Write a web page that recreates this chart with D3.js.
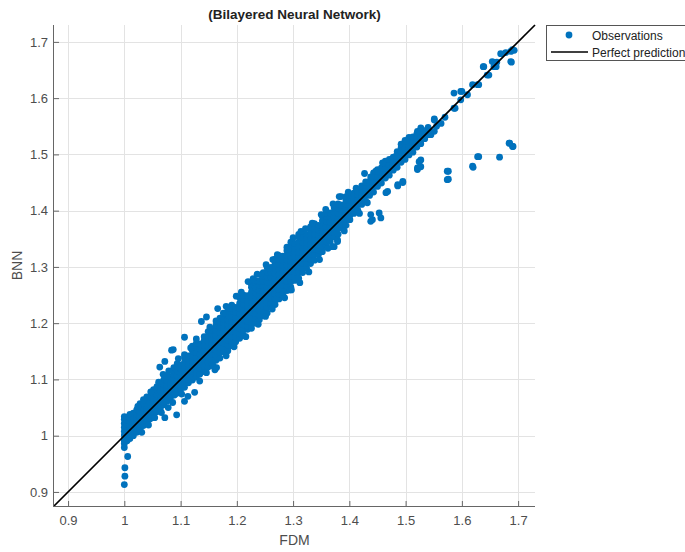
<!DOCTYPE html>
<html>
<head>
<meta charset="utf-8">
<script src="https://cdn.jsdelivr.net/npm/d3@7"></script>
<style>
  html, body { margin: 0; padding: 0; background: #fff; }
  svg { display: block; font-family: "Liberation Sans", Arial, Helvetica, sans-serif; }
</style>
</head>
<body>
<svg id="chart" width="685" height="552"></svg>
<script>
// ---- Data: FDM (x) vs BNN prediction (y) ----
const tickValues = [0.9, 1.0, 1.1, 1.2, 1.3, 1.4, 1.5, 1.6, 1.7];
const tickLabels = ["0.9", "1", "1.1", "1.2", "1.3", "1.4", "1.5", "1.6", "1.7"];
const legendLabels = ["Observations", "Perfect prediction"];

// Dense band, grouped per FDM column: [FDM, [BNN values]]
const bandLow = [
  [1.000, [0.986, 0.994, 1.001, 1.008, 1.015, 1.022, 1.029, 1.034]],
  [1.005, [0.991, 0.999, 1.006, 1.013, 1.020, 1.027, 1.033]],
  [1.010, [0.995, 1.003, 1.011, 1.018, 1.025, 1.032, 1.038]],
  [1.016, [1.000, 1.008, 1.016, 1.023, 1.031, 1.040]],
  [1.022, [1.006, 1.013, 1.021, 1.029, 1.037, 1.046]],
  [1.028, [1.012, 1.020, 1.027, 1.035, 1.043, 1.051, 1.057]],
  [1.034, [1.018, 1.025, 1.033, 1.041, 1.049, 1.056]],
  [1.040, [1.025, 1.031, 1.039, 1.047, 1.055, 1.063, 1.069]],
  [1.046, [1.030, 1.037, 1.045, 1.053, 1.061, 1.068]],
  [1.052, [1.036, 1.043, 1.051, 1.059, 1.067, 1.075, 1.082]],
  [1.058, [1.043, 1.049, 1.057, 1.065, 1.073, 1.081, 1.087]],
  [1.064, [1.048, 1.055, 1.063, 1.071, 1.079, 1.087]],
  [1.070, [1.055, 1.060, 1.068, 1.076, 1.084, 1.092, 1.099]],
  [1.076, [1.061, 1.066, 1.074, 1.082, 1.090, 1.098, 1.106]],
  [1.082, [1.068, 1.071, 1.080, 1.088, 1.096, 1.104]],
  [1.088, [1.072, 1.077, 1.085, 1.093, 1.101, 1.109, 1.117, 1.121]],
  [1.094, [1.076, 1.083, 1.091, 1.099, 1.107, 1.115, 1.123, 1.128]],
  [1.100, [1.082, 1.088, 1.096, 1.104, 1.112, 1.120, 1.126]]
];

const bandMid = [
  [1.107, [1.086, 1.094, 1.103, 1.112, 1.121, 1.130, 1.139, 1.144]],
  [1.114, [1.094, 1.100, 1.109, 1.118, 1.127, 1.136, 1.142]],
  [1.121, [1.099, 1.106, 1.115, 1.124, 1.133, 1.142, 1.151, 1.159]],
  [1.128, [1.104, 1.112, 1.121, 1.130, 1.139, 1.148, 1.157, 1.164]],
  [1.135, [1.112, 1.118, 1.127, 1.136, 1.145, 1.154, 1.163]],
  [1.142, [1.114, 1.124, 1.133, 1.142, 1.151, 1.160, 1.169, 1.176]],
  [1.149, [1.122, 1.130, 1.139, 1.148, 1.157, 1.166, 1.175, 1.185]],
  [1.156, [1.129, 1.136, 1.145, 1.154, 1.163, 1.172, 1.181, 1.188]],
  [1.163, [1.134, 1.142, 1.151, 1.160, 1.169, 1.178, 1.187, 1.196, 1.204]],
  [1.170, [1.138, 1.148, 1.157, 1.166, 1.175, 1.184, 1.193, 1.202, 1.209]],
  [1.177, [1.149, 1.155, 1.164, 1.173, 1.182, 1.191, 1.200, 1.207]],
  [1.184, [1.151, 1.161, 1.170, 1.179, 1.188, 1.197, 1.206, 1.215, 1.222]],
  [1.191, [1.160, 1.168, 1.177, 1.186, 1.195, 1.204, 1.213, 1.222, 1.232]],
  [1.198, [1.167, 1.175, 1.184, 1.193, 1.202, 1.211, 1.220, 1.228]],
  [1.205, [1.173, 1.181, 1.190, 1.199, 1.208, 1.217, 1.226, 1.235, 1.245]],
  [1.212, [1.178, 1.188, 1.197, 1.206, 1.215, 1.224, 1.233, 1.242, 1.250]],
  [1.219, [1.189, 1.195, 1.204, 1.213, 1.222, 1.231, 1.240, 1.249]],
  [1.226, [1.191, 1.201, 1.210, 1.219, 1.228, 1.237, 1.246, 1.255, 1.264, 1.269]],
  [1.233, [1.200, 1.208, 1.217, 1.226, 1.235, 1.244, 1.253, 1.262, 1.271, 1.276]],
  [1.240, [1.206, 1.214, 1.223, 1.232, 1.241, 1.250, 1.259, 1.268, 1.275]],
  [1.247, [1.213, 1.221, 1.230, 1.239, 1.248, 1.257, 1.266, 1.275, 1.284, 1.290]],
  [1.254, [1.218, 1.228, 1.237, 1.246, 1.255, 1.264, 1.273, 1.282, 1.291, 1.299]]
];

const bandUpper = [
  [1.261, [1.230, 1.236, 1.245, 1.254, 1.263, 1.272, 1.281, 1.290, 1.299]],
  [1.268, [1.233, 1.243, 1.252, 1.261, 1.270, 1.279, 1.288, 1.297, 1.306, 1.314]],
  [1.275, [1.243, 1.251, 1.260, 1.269, 1.278, 1.287, 1.296, 1.305, 1.314, 1.320]],
  [1.282, [1.250, 1.258, 1.267, 1.276, 1.285, 1.294, 1.303, 1.312, 1.319]],
  [1.289, [1.258, 1.266, 1.275, 1.284, 1.293, 1.302, 1.311, 1.320, 1.329, 1.335]],
  [1.296, [1.264, 1.274, 1.283, 1.292, 1.301, 1.310, 1.319, 1.328, 1.337, 1.344]],
  [1.303, [1.276, 1.282, 1.291, 1.300, 1.309, 1.318, 1.327, 1.336, 1.342]],
  [1.310, [1.280, 1.290, 1.299, 1.308, 1.317, 1.326, 1.335, 1.344, 1.353, 1.358]],
  [1.317, [1.290, 1.298, 1.307, 1.316, 1.325, 1.334, 1.343, 1.352, 1.360]],
  [1.324, [1.298, 1.306, 1.315, 1.324, 1.333, 1.342, 1.351, 1.358]],
  [1.331, [1.306, 1.314, 1.323, 1.332, 1.341, 1.350, 1.359, 1.368, 1.371]],
  [1.338, [1.312, 1.322, 1.331, 1.340, 1.349, 1.358, 1.367, 1.377]],
  [1.345, [1.322, 1.330, 1.339, 1.348, 1.357, 1.366, 1.374]],
  [1.352, [1.327, 1.337, 1.346, 1.355, 1.364, 1.373, 1.382, 1.390]],
  [1.359, [1.337, 1.345, 1.354, 1.363, 1.372, 1.381, 1.390, 1.395]],
  [1.366, [1.345, 1.353, 1.362, 1.371, 1.380, 1.389, 1.396]],
  [1.373, [1.353, 1.361, 1.370, 1.379, 1.388, 1.397, 1.405]],
  [1.380, [1.358, 1.368, 1.377, 1.386, 1.395, 1.404, 1.412]],
  [1.387, [1.369, 1.376, 1.385, 1.394, 1.403, 1.410]],
  [1.394, [1.374, 1.384, 1.393, 1.402, 1.411, 1.419, 1.425]],
  [1.401, [1.384, 1.392, 1.401, 1.410, 1.418, 1.427]]
];

const bandHigh = [
  [1.408, [1.395, 1.404, 1.413, 1.422, 1.431]],
  [1.415, [1.401, 1.411, 1.420, 1.429, 1.434]],
  [1.422, [1.411, 1.419, 1.428, 1.437, 1.444]],
  [1.429, [1.417, 1.427, 1.436, 1.445, 1.451]],
  [1.436, [1.427, 1.435, 1.444, 1.452]],
  [1.443, [1.433, 1.443, 1.452, 1.461, 1.467]],
  [1.450, [1.443, 1.451, 1.460, 1.469, 1.473]],
  [1.457, [1.449, 1.459, 1.468, 1.476]],
  [1.464, [1.458, 1.466, 1.475, 1.484, 1.488]],
  [1.471, [1.463, 1.473, 1.482, 1.491]],
  [1.478, [1.472, 1.480, 1.489, 1.495]],
  [1.485, [1.477, 1.487, 1.496, 1.505]],
  [1.492, [1.486, 1.494, 1.503, 1.512, 1.518]],
  [1.499, [1.491, 1.501, 1.510, 1.519, 1.525]],
  [1.506, [1.499, 1.507, 1.516, 1.525, 1.530]],
  [1.513, [1.504, 1.514, 1.523, 1.531]],
  [1.520, [1.513, 1.521, 1.530, 1.537]],
  [1.527, [1.519, 1.529, 1.537, 1.544]],
  [1.534, [1.528, 1.536, 1.542]],
  [1.541, [1.535, 1.544]]
];

// Scattered observations above the line: [FDM, BNN]
const scatterAbove = [
  [1.034, 1.064], [1.063, 1.122], [1.069, 1.109], [1.072, 1.132], [1.084, 1.152],
  [1.087, 1.153], [1.107, 1.175], [1.137, 1.203], [1.146, 1.211], [1.166, 1.226],
  [1.187, 1.227], [1.199, 1.248], [1.220, 1.274], [1.243, 1.286], [1.258, 1.298],
  [1.264, 1.313], [1.291, 1.325], [1.291, 1.331], [1.314, 1.363], [1.350, 1.393],
  [1.382, 1.425], [1.385, 1.425], [1.427, 1.466], [1.447, 1.470], [1.450, 1.470],
  [1.459, 1.485], [1.483, 1.497], [1.501, 1.523], [1.521, 1.541], [1.527, 1.547],
  [1.024, 1.052], [1.047, 1.078], [1.061, 1.095], [1.079, 1.115], [1.096, 1.137],
  [1.118, 1.156], [1.128, 1.172], [1.152, 1.193], [1.176, 1.218], [1.181, 1.230],
  [1.208, 1.255], [1.229, 1.279], [1.236, 1.287], [1.252, 1.304], [1.272, 1.322],
  [1.300, 1.352], [1.322, 1.368], [1.334, 1.378], [1.358, 1.402], [1.371, 1.412],
  [1.398, 1.433], [1.412, 1.440], [1.438, 1.460]
];

// Scattered observations below the line: [FDM, BNN]
const scatterBelow = [
  [1.000, 0.979], [1.006, 0.963], [1.001, 0.943], [1.001, 0.928], [1.000, 0.913],
  [1.000, 0.991], [1.054, 1.032], [1.072, 1.032], [1.093, 1.037], [1.057, 1.043],
  [1.086, 1.059], [1.090, 1.073], [1.107, 1.061], [1.113, 1.070], [1.125, 1.077],
  [1.134, 1.097], [1.134, 1.109], [1.161, 1.117], [1.164, 1.121], [1.270, 1.242],
  [1.294, 1.259], [1.297, 1.259], [1.370, 1.336], [1.379, 1.348], [1.373, 1.336],
  [1.379, 1.345], [1.397, 1.384], [1.432, 1.414], [1.438, 1.393], [1.441, 1.384],
  [1.438, 1.381], [1.453, 1.396], [1.456, 1.387], [1.465, 1.432], [1.468, 1.434],
  [1.486, 1.444], [1.495, 1.452], [1.486, 1.446], [1.495, 1.450], [1.521, 1.473],
  [1.524, 1.487], [1.521, 1.476], [1.527, 1.490], [1.527, 1.478],
  [1.031, 1.006], [1.043, 1.019], [1.066, 1.041], [1.078, 1.050], [1.102, 1.074],
  [1.146, 1.112], [1.158, 1.124], [1.181, 1.142], [1.195, 1.158], [1.216, 1.176],
  [1.238, 1.198], [1.251, 1.212], [1.263, 1.225], [1.285, 1.245], [1.312, 1.272],
  [1.328, 1.291], [1.347, 1.313], [1.362, 1.333], [1.391, 1.364], [1.418, 1.395]
];

// Sparse observations at the top of the range: [FDM, BNN]
const tail = [
  [1.540, 1.548], [1.545, 1.535], [1.551, 1.561], [1.551, 1.563], [1.563, 1.555],
  [1.551, 1.541], [1.555, 1.550], [1.570, 1.566], [1.586, 1.582], [1.588, 1.582],
  [1.598, 1.597], [1.586, 1.609], [1.598, 1.612], [1.600, 1.612], [1.610, 1.606],
  [1.619, 1.624], [1.630, 1.624], [1.628, 1.624], [1.639, 1.656], [1.638, 1.656],
  [1.648, 1.641], [1.645, 1.641], [1.654, 1.665], [1.661, 1.656], [1.657, 1.656],
  [1.662, 1.664], [1.669, 1.679], [1.678, 1.681], [1.687, 1.683], [1.693, 1.685],
  [1.690, 1.686], [1.688, 1.664], [1.687, 1.665],
  [1.574, 1.470], [1.574, 1.455], [1.576, 1.470], [1.576, 1.456], [1.619, 1.479],
  [1.620, 1.477], [1.628, 1.496], [1.630, 1.496], [1.667, 1.495], [1.685, 1.520],
  [1.691, 1.514], [1.684, 1.520], [1.690, 1.514]
];

// ---- Layout ----
const W = 685, H = 552;
const plot = { left: 54, right: 535, top: 25, bottom: 506 };
const axisMin = 0.875, axisMax = 1.73;
const blue = "#0072BD";

const svg = d3.select("#chart");
svg.append("rect").attr("width", W).attr("height", H).attr("fill", "#fff");

const x = d3.scaleLinear().domain([axisMin, axisMax]).range([plot.left, plot.right]);
const y = d3.scaleLinear().domain([axisMin, axisMax]).range([plot.bottom, plot.top]);

// Flatten the column groups into point pairs
const fromColumns = cols => cols.flatMap(([fx, ys]) => ys.map(v => [fx, v]));
const observations = [
  ...fromColumns(bandLow), ...fromColumns(bandMid),
  ...fromColumns(bandUpper), ...fromColumns(bandHigh),
  ...scatterAbove, ...scatterBelow, ...tail
];

// Grid
const grid = svg.append("g").attr("stroke", "#e3e3e3").attr("stroke-width", 1);
grid.selectAll(".gx").data(tickValues).join("line")
  .attr("x1", d => Math.round(x(d)) + 0.5).attr("x2", d => Math.round(x(d)) + 0.5)
  .attr("y1", plot.top).attr("y2", plot.bottom);
grid.selectAll(".gy").data(tickValues).join("line")
  .attr("y1", d => Math.round(y(d)) + 0.5).attr("y2", d => Math.round(y(d)) + 0.5)
  .attr("x1", plot.left).attr("x2", plot.right);

// Observations
svg.append("g").selectAll("circle").data(observations).join("circle")
  .attr("cx", d => x(d[0])).attr("cy", d => y(d[1]))
  .attr("r", 3.4).attr("fill", blue);

// Perfect prediction line (y = x across the full axis range)
const diag = d3.line().x(d => x(d)).y(d => y(d));
svg.append("path").attr("d", diag([axisMin, axisMax]))
  .attr("fill", "none").attr("stroke", "#000").attr("stroke-width", 1.7);

// Axes
const labelFor = d => tickLabels[tickValues.indexOf(d)];
const xAxis = d3.axisBottom(x).tickValues(tickValues).tickFormat(labelFor)
  .tickSizeInner(-5).tickSizeOuter(0).tickPadding(10);
const yAxis = d3.axisLeft(y).tickValues(tickValues).tickFormat(labelFor)
  .tickSizeInner(-5).tickSizeOuter(0).tickPadding(6);

const gx = svg.append("g").attr("transform", `translate(0,${plot.bottom})`).call(xAxis);
const gy = svg.append("g").attr("transform", `translate(${plot.left},0)`).call(yAxis);
[gx, gy].forEach(g => {
  g.select(".domain").remove();
  g.selectAll(".tick line").attr("stroke", "#666");
  g.selectAll(".tick text").attr("fill", "#4d4d4d")
    .style("font-size", "13px").style("font-family", "'Liberation Sans', Arial, sans-serif");
});
svg.append("line").attr("x1", plot.left).attr("x2", plot.right)
  .attr("y1", plot.bottom + 0.5).attr("y2", plot.bottom + 0.5).attr("stroke", "#666");
svg.append("line").attr("x1", plot.left - 0.5).attr("x2", plot.left - 0.5)
  .attr("y1", plot.top).attr("y2", plot.bottom + 1).attr("stroke", "#666");

// Title and axis labels
svg.append("text").attr("x", (plot.left + plot.right) / 2).attr("y", 19)
  .attr("text-anchor", "middle").attr("font-weight", "bold").attr("font-size", 13.5)
  .attr("fill", "#222").text("(Bilayered Neural Network)");
svg.append("text").attr("x", (plot.left + plot.right) / 2).attr("y", 545)
  .attr("text-anchor", "middle").attr("font-size", 14).attr("fill", "#4d4d4d").text("FDM");
svg.append("text").attr("transform", `translate(22,${(plot.top + plot.bottom) / 2}) rotate(-90)`)
  .attr("text-anchor", "middle").attr("font-size", 14).attr("fill", "#4d4d4d").text("BNN");

// Legend
const lg = svg.append("g");
lg.append("rect").attr("x", 546.5).attr("y", 25.5).attr("width", 160).attr("height", 35)
  .attr("fill", "#fff").attr("stroke", "#555").attr("stroke-width", 1);
lg.append("circle").attr("cx", 569).attr("cy", 35).attr("r", 3.4).attr("fill", blue);
lg.append("line").attr("x1", 551).attr("x2", 588).attr("y1", 52).attr("y2", 52)
  .attr("stroke", "#000").attr("stroke-width", 1.7);
lg.selectAll("text.lbl").data(legendLabels).join("text")
  .attr("x", 592).attr("y", (d, i) => 40 + i * 16.5)
  .attr("font-size", 12).attr("fill", "#222").text(d => d);
</script>
</body>
</html>
